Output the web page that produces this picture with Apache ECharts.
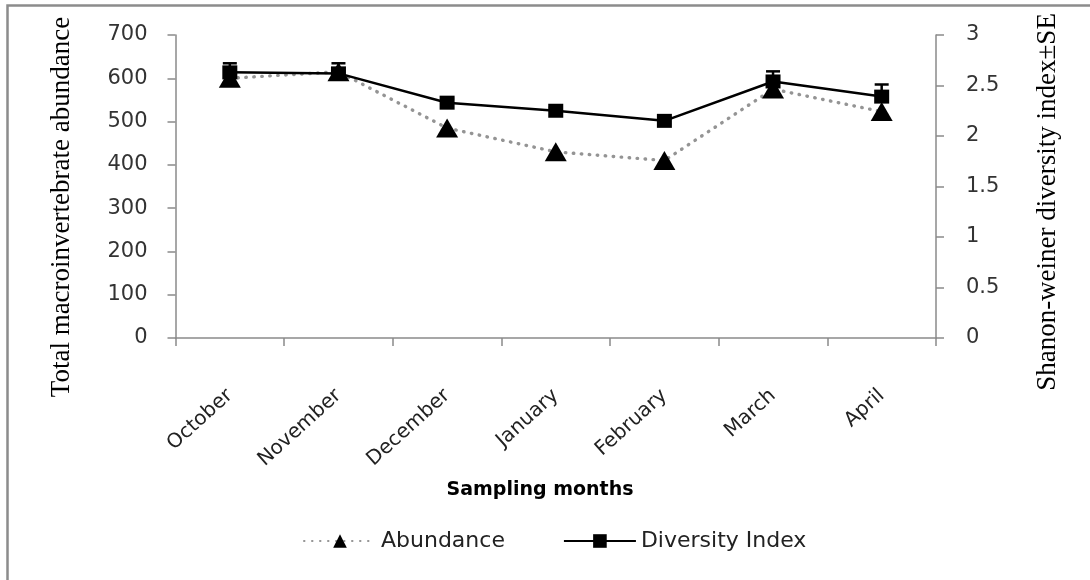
<!DOCTYPE html>
<html>
<head>
<meta charset="utf-8">
<script src="https://cdn.jsdelivr.net/npm/echarts@6/dist/echarts.min.js"></script>
<style>
  html, body { margin: 0; padding: 0; background: #ffffff; }
  #chart { width: 1090px; height: 580px; }
</style>
</head>
<body>
<div id="chart"></div>
<script>
// Sampling months on the category axis
const months = ['October', 'November', 'December', 'January', 'February', 'March', 'April'];
// Total macroinvertebrate abundance (left axis)
const abundance = [600, 615, 485, 430, 410, 575, 523];
// Shannon-Wiener diversity index (right axis) and its standard error
const diversity = [2.63, 2.62, 2.33, 2.25, 2.15, 2.54, 2.39];
const diversitySE = [0.09, 0.10, 0.04, 0.03, 0.03, 0.10, 0.12];
// Axis ranges
const abundanceAxis = { min: 0, max: 700, interval: 100 };
const diversityAxis = { min: 0, max: 3, interval: 0.5 };

const axisGray = '#8a8a8a';
const textDark = '#333333';
const sansFont = '"DejaVu Sans", sans-serif';
const serifFont = '"Liberation Serif", "DejaVu Serif", serif';

const chart = echarts.init(document.getElementById('chart'), null, { renderer: 'canvas' });

const errorData = months.map((m, i) => [i, diversity[i], diversitySE[i]]);

chart.setOption({
  animation: false,
  backgroundColor: '#ffffff',
  grid: { left: 175.5, right: 154, top: 35, bottom: 242, containLabel: false },
  legend: {
    data: ['Abundance', 'Diversity Index'],
    left: 298,
    top: 525,
    itemWidth: 72,
    itemHeight: 17,
    itemGap: 58,
    textStyle: { fontFamily: sansFont, fontSize: 22, color: '#222222' }
  },
  xAxis: {
    type: 'category',
    data: months,
    boundaryGap: true,
    axisLine: { lineStyle: { color: axisGray, width: 1.5 } },
    axisTick: { show: true, length: 8, lineStyle: { color: axisGray, width: 1.5 } },
    axisLabel: {
      rotate: 42,
      margin: 55,
      interval: 0,
      fontFamily: sansFont,
      fontSize: 20,
      color: '#222222'
    },
    splitLine: { show: false }
  },
  yAxis: [
    {
      type: 'value',
      min: abundanceAxis.min,
      max: abundanceAxis.max,
      interval: abundanceAxis.interval,
      position: 'left',
      axisLine: { show: true, lineStyle: { color: axisGray, width: 1.5 } },
      axisTick: { show: true, length: 8, lineStyle: { color: axisGray, width: 1.5 } },
      axisLabel: { margin: 28, fontFamily: sansFont, fontSize: 21, color: textDark },
      splitLine: { show: false }
    },
    {
      type: 'value',
      min: diversityAxis.min,
      max: diversityAxis.max,
      interval: diversityAxis.interval,
      position: 'right',
      axisLine: { show: true, lineStyle: { color: axisGray, width: 1.5 } },
      axisTick: { show: true, length: 8, lineStyle: { color: axisGray, width: 1.5 } },
      axisLabel: { margin: 30, fontFamily: sansFont, fontSize: 21, color: textDark },
      splitLine: { show: false }
    }
  ],
  series: [
    {
      name: 'Abundance',
      type: 'line',
      yAxisIndex: 0,
      data: abundance,
      symbol: 'triangle',
      symbolSize: [22, 19],
      itemStyle: { color: '#000000' },
      lineStyle: { color: '#949494', width: 3.4, type: [0.5, 7.5], cap: 'round' },
      z: 2
    },
    {
      name: 'Diversity Index',
      type: 'line',
      yAxisIndex: 1,
      data: diversity,
      symbol: 'rect',
      symbolSize: [15, 14],
      itemStyle: { color: '#000000' },
      lineStyle: { color: '#000000', width: 2.5 },
      z: 3
    },
    {
      // upper standard-error whiskers on the diversity index
      name: 'Diversity SE',
      type: 'custom',
      yAxisIndex: 1,
      data: errorData,
      encode: { x: 0, y: 1 },
      z: 4,
      renderItem: function (params, api) {
        const i = api.value(0);
        const v = api.value(1);
        const se = api.value(2);
        const top = api.coord([i, v + se]);
        const mid = api.coord([i, v]);
        const half = 7;
        const st = { stroke: '#000000', lineWidth: 2.5 };
        return {
          type: 'group',
          children: [
            { type: 'line', shape: { x1: top[0], y1: top[1], x2: mid[0], y2: mid[1] }, style: st },
            { type: 'line', shape: { x1: top[0] - half, y1: top[1], x2: top[0] + half, y2: top[1] }, style: st }
          ]
        };
      }
    }
  ],
  graphic: [
    {
      type: 'rect',
      shape: { x: 7.5, y: 5.5, width: 1200, height: 700 },
      style: { fill: 'none', stroke: '#8c8c8c', lineWidth: 2.5 },
      silent: true
    },
    {
      type: 'text',
      x: 62, y: 207,
      rotation: Math.PI / 2,
      style: {
        text: 'Total macroinvertebrate abundance',
        font: '27px ' + serifFont,
        fill: '#000000',
        textAlign: 'center',
        textVerticalAlign: 'middle'
      }
    },
    {
      type: 'text',
      x: 1048, y: 202,
      rotation: Math.PI / 2,
      style: {
        text: 'Shanon-weiner diversity index\u00B1SE',
        font: '27px ' + serifFont,
        fill: '#000000',
        textAlign: 'center',
        textVerticalAlign: 'middle'
      }
    },
    {
      type: 'text',
      x: 540, y: 490,
      style: {
        text: 'Sampling months',
        font: 'bold 19px ' + sansFont,
        fill: '#000000',
        textAlign: 'center',
        textVerticalAlign: 'middle'
      }
    }
  ]
});
</script>
</body>
</html>
